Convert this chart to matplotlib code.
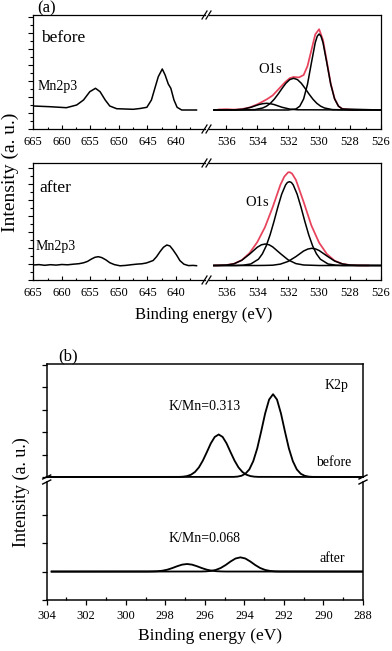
import matplotlib
matplotlib.use('Agg')
import matplotlib.pyplot as plt
from matplotlib.lines import Line2D
from matplotlib.ticker import FixedLocator, MultipleLocator

plt.rcParams['font.family'] = ['Liberation Serif', 'DejaVu Serif']

# ---------------- data (a) : before ----------------
mn_before_ev = [665, 662.1, 659.2, 657.4, 656.2, 655.1, 654.1, 653.3, 652.4, 651.6, 650.4, 649.0,
                647.5, 646.3, 645.1, 644.3, 643.7, 643.1, 642.4, 641.9, 641.35, 640.9, 640.35,
                639.8, 639.0, 637.8, 636.4]
mn_before_int = [23.0, 22.3, 21.3, 24.0, 29.0, 37.3, 40.7, 37.3, 29.0, 23.0, 20.3, 20.0,
                 19.7, 20.5, 21.7, 29.0, 40.7, 52.3, 60.0, 54.0, 45.0, 40.7, 29.0,
                 21.7, 19.0, 19.0, 19.0]

o1s_b_c1_ev = [536.8, 532.0, 531.5, 531.25, 531.0, 530.75, 530.5, 530.25, 530.12, 530.0, 529.88,
               529.75, 529.5, 529.25, 529.0, 528.75, 528.5, 526.0]
o1s_b_c1_int = [19, 19, 20.0, 22.8, 30.1, 44.8, 66.0, 86.4, 92.8, 95.0, 92.8,
                86.4, 66.0, 44.8, 30.1, 22.8, 20.0, 19]

o1s_b_c2_ev = [536.8, 535.0, 534.15, 533.65, 533.4, 533.15, 532.9, 532.65, 532.4, 532.15, 531.9,
               531.65, 531.4, 531.15, 530.9, 530.65, 530.4, 530.15, 529.9, 529.65, 529.15, 528.0, 526.0]
o1s_b_c2_int = [19, 19.1, 19.4, 21.0, 22.8, 25.7, 29.8, 34.9, 40.5, 45.7, 49.4,
                50.7, 49.4, 45.7, 40.5, 34.9, 29.8, 25.7, 22.8, 21.0, 19.4, 19, 19]

o1s_b_c3_ev = [536.8, 535.5, 534.9, 534.4, 533.9, 533.65, 533.4, 533.15, 532.9, 532.4, 531.9, 531.4, 526.0]
o1s_b_c3_int = [19, 19.1, 19.9, 21.75, 24.4, 25.3, 25.7, 25.3, 24.4, 21.75, 19.9, 19.2, 19]

o1s_b_env_ev = [536.5, 536.0, 535.5, 535.0, 534.5, 534.0, 533.7, 533.37, 533.0, 532.6, 532.2,
                531.9, 531.65, 531.3, 531.0, 530.75, 530.5, 530.25, 530.0, 529.75, 529.5,
                529.25, 529.0, 528.75, 528.5, 528.0, 527.5]
o1s_b_env_int = [19.5, 19.8, 19.4, 19.9, 21.5, 24.6, 27.0, 29.8, 33.6, 40.2, 46.8,
                 50.8, 52.0, 51.6, 54.0, 63.0, 78.7, 94.6, 99.8, 89.0, 67.3,
                 45.4, 30.4, 22.9, 20.2, 19.3, 19.0]

# ---------------- data (a) : after ----------------
mn_after_ev = [665, 664, 663, 662, 661, 660, 659, 658, 657, 656.2, 655.5, 654.8, 654.2, 653.6,
               653.0, 652.3, 651.6, 650.8, 649.8, 648.8, 647.8, 646.8, 646.0, 645.2, 644.6,
               644.0, 643.4, 642.8, 642.2, 641.6, 641.05, 640.5, 639.9, 639.3, 638.6, 637.8,
               637.0, 636.4]
mn_after_int = [15, 15.4, 14.7, 15.3, 14.9, 15.5, 15.2, 15.8, 16.3, 17.2, 18.6, 21.0, 22.7, 23.3,
                22.4, 20.2, 17.3, 15.4, 14.2, 14.6, 15.3, 15.9, 16.2, 17.0, 18.2,
                19.5, 23.3, 28.3, 32.7, 35.0, 34.0, 30.0, 25.0, 19.3, 15.8, 14.4,
                14.6, 14.3]

o1s_a_c1_ev = [536.8, 535.42, 534.92, 534.42, 533.92, 533.67, 533.42, 533.17, 532.92, 532.67,
               532.42, 532.17, 532.05, 531.92, 531.79, 531.67, 531.42, 531.17, 530.92, 530.67,
               530.42, 530.17, 529.92, 529.42, 528.92, 528.42, 526.0]
o1s_a_c1_int = [14.5, 14.5, 14.8, 16.0, 20.8, 26.1, 34.1, 45.1, 58.4, 72.8,
                85.8, 95.0, 97.5, 98.3, 97.5, 95.0, 85.8, 72.8, 58.4, 45.1,
                34.1, 26.1, 20.8, 16.0, 14.8, 14.5, 14.5]

o1s_a_c2_ev = [536.8, 536.5, 536.0, 535.5, 535.0, 534.5, 534.0, 533.73, 533.48, 533.23, 533.0,
               532.5, 532.0, 531.5, 531.0, 530.0, 526.0]
o1s_a_c2_int = [14.5, 14.6, 14.9, 16.2, 19.7, 25.8, 32.7, 35.2, 36.0, 35.2, 33.1,
                26.4, 20.1, 16.4, 15.0, 14.5, 14.5]

o1s_a_c3_ev = [536.8, 534.0, 533.5, 533.0, 532.5, 532.0, 531.5, 531.0, 530.72, 530.47, 530.22,
               530.0, 529.5, 529.0, 528.5, 528.0, 527.5, 526.0]
o1s_a_c3_int = [14.5, 14.5, 14.6, 14.8, 15.9, 18.6, 23.4, 29.0, 31.0, 31.7, 31.0,
                29.5, 24.1, 19.0, 16.1, 14.9, 14.6, 14.5]

o1s_a_env_ev = [536.8, 536.0, 535.5, 535.0, 534.5, 534.0, 533.5, 533.0, 532.5, 532.25, 532.0,
                531.9, 531.75, 531.5, 531.0, 530.5, 530.0, 529.5, 529.0, 528.5, 528.0, 527.5, 526.8]
o1s_a_env_int = [14.5, 14.9, 16.3, 19.9, 26.9, 37.8, 52.8, 72.9, 95.3, 103.4, 107.7,
                 107.8, 106.4, 100.1, 78.0, 54.5, 37.3, 26.0, 19.3, 16.1, 14.9, 14.6, 14.5]

# ---------------- data (b) : K2p ----------------
k_before_p1_ev = [304, 294.55, 294.35, 294.15, 293.95, 293.75, 293.55, 293.35, 293.15, 292.95,
                  292.75, 292.55, 292.35, 292.15, 291.95, 291.75, 291.55, 291.35, 291.15,
                  290.95, 290.75, 290.55, 288]
k_before_p1_int = [0, 0.005, 0.017, 0.054, 0.145, 0.34, 0.71, 1.28, 2.04, 2.84,
                   3.46, 3.70, 3.46, 2.84, 2.04, 1.28, 0.71, 0.34, 0.145,
                   0.054, 0.017, 0.005, 0]
k_before_p2_ev = [304, 297.3, 297.1, 296.9, 296.7, 296.5, 296.3, 296.1, 295.9, 295.7, 295.5,
                  295.3, 295.1, 294.9, 294.7, 294.5, 294.3, 294.1, 293.9, 293.7, 293.5, 293.3, 288]
k_before_p2_int = [0, 0.005, 0.015, 0.042, 0.103, 0.224, 0.43, 0.735, 1.11, 1.50, 1.79,
                   1.90, 1.79, 1.50, 1.11, 0.735, 0.43, 0.224, 0.103, 0.042, 0.015, 0.005, 0]

k_after_p1_ev = [303.75, 298.9, 298.65, 298.4, 298.15, 297.9, 297.65, 297.4, 297.15, 296.9,
                 296.65, 296.4, 296.15, 295.9, 295.65, 295.4, 295.15, 294.9, 288]
k_after_p1_int = [0, 0.001, 0.004, 0.012, 0.030, 0.066, 0.122, 0.188, 0.244, 0.266,
                  0.244, 0.188, 0.122, 0.066, 0.030, 0.012, 0.004, 0.001, 0]
k_after_p2_ev = [303.75, 296.2, 295.95, 295.7, 295.45, 295.2, 294.95, 294.7, 294.45, 294.2,
                 293.95, 293.7, 293.45, 293.2, 292.95, 292.7, 292.45, 292.2, 288]
k_after_p2_int = [0, 0.002, 0.007, 0.022, 0.057, 0.125, 0.229, 0.354, 0.459, 0.50,
                  0.459, 0.354, 0.229, 0.125, 0.057, 0.022, 0.007, 0.002, 0]

# tick labels
a_left_ticks = [665, 660, 655, 650, 645, 640]
a_right_ticks = [536, 534, 532, 530, 528, 526]
b_ticks = [304, 302, 300, 298, 296, 294, 292, 290, 288]

# ---------------- layout ----------------
W, H = 392, 651
fig = plt.figure(figsize=(W / 100, H / 100), dpi=100)
RED = '#e8435c'
LW = 1.1
SPW = 0.9


def px_axes(x0, x1, y0, y1):
    return fig.add_axes([x0 / W, 1 - y1 / H, (x1 - x0) / W, (y1 - y0) / H])


def seg(x0, y0, x1, y1, lw=SPW):
    fig.add_artist(Line2D([x0 / W, x1 / W], [1 - y0 / H, 1 - y1 / H],
                          transform=fig.transFigure, color='k', lw=lw))


def style_x(ax, major, minor):
    ax.xaxis.set_major_locator(FixedLocator(major))
    ax.xaxis.set_minor_locator(FixedLocator(minor))
    ax.tick_params(axis='x', which='major', direction='in', length=3, width=0.8,
                   labelsize=9, pad=5, top=False)
    ax.tick_params(axis='x', which='minor', direction='in', length=1.8, width=0.8, top=False)
    for s in ax.spines.values():
        s.set_linewidth(SPW)


XL = (33.3, 204.5)
XR = (208.5, 381)
rows_a = [(15, 129, 114), (163, 280, 117)]
datasets = [
    (mn_before_ev, mn_before_int,
     [(o1s_b_c1_ev, o1s_b_c1_int), (o1s_b_c2_ev, o1s_b_c2_int), (o1s_b_c3_ev, o1s_b_c3_int)],
     (o1s_b_env_ev, o1s_b_env_int)),
    (mn_after_ev, mn_after_int,
     [(o1s_a_c1_ev, o1s_a_c1_int), (o1s_a_c2_ev, o1s_a_c2_int), (o1s_a_c3_ev, o1s_a_c3_int)],
     (o1s_a_env_ev, o1s_a_env_int)),
]

for (y0, y1, ytop), (mev, mint, comps, env) in zip(rows_a, datasets):
    axl = px_axes(XL[0], XL[1], y0, y1)
    axr = px_axes(XR[0], XR[1], y0, y1)
    axl.plot(mev, mint, color='k', lw=LW)
    axr.plot(env[0], env[1], color=RED, lw=LW * 1.15)
    for cev, cint in comps:
        axr.plot(cev, cint, color='k', lw=LW)
    axl.set_xlim(665, 635)
    axr.set_xlim(537.15, 526)
    for ax in (axl, axr):
        ax.set_ylim(0, ytop)
    style_x(axl, a_left_ticks, [662.5, 657.5, 652.5, 647.5, 642.5, 637.5])
    style_x(axr, a_right_ticks, [535, 533, 531, 529, 527])
    axl.spines['right'].set_visible(False)
    axr.spines['left'].set_visible(False)
    axl.yaxis.set_major_locator(MultipleLocator(16))
    axl.yaxis.set_minor_locator(MultipleLocator(8))
    axl.tick_params(axis='y', which='major', direction='out', length=3.5, width=0.8,
                    labelleft=False)
    axl.tick_params(axis='y', which='minor', direction='out', length=2, width=0.8)
    axr.tick_params(axis='y', which='both', left=False, right=False, labelleft=False)
    # break marks
    for xb in (XL[1], XR[0]):
        for yb in (y0, y1):
            seg(xb - 2.5, yb + 4, xb + 2.5, yb - 4)

# panel (a) texts
fig.text(47 / W, 1 - 8 / H, '(a)', fontsize=12, ha='center', va='center')
fig.text(63.5 / W, 1 - 38 / H, 'before', fontsize=12.5, ha='center', va='center')
fig.text(57.5 / W, 1 - 86.5 / H, 'Mn2p3', fontsize=10, ha='center', va='center')
fig.text(270.5 / W, 1 - 69.5 / H, 'O1s', fontsize=10.5, ha='center', va='center')
fig.text(55 / W, 1 - 188 / H, 'after', fontsize=12.5, ha='center', va='center')
fig.text(56 / W, 1 - 246.5 / H, 'Mn2p3', fontsize=10, ha='center', va='center')
fig.text(257 / W, 1 - 203 / H, 'O1s', fontsize=10.5, ha='center', va='center')
fig.text(204 / W, 1 - 315 / H, 'Binding energy (eV)', fontsize=12, ha='center', va='center')
fig.text(10 / W, 1 - 172 / H, 'Intensity (a. u.)', fontsize=14, ha='center', va='center',
         rotation=90)

# ---------------- panel (b) ----------------
BX = (46.7, 363)
axb1 = px_axes(BX[0], BX[1], 364, 477)
axb2 = px_axes(BX[0], BX[1], 482, 600)

axb1.plot(k_before_p1_ev, k_before_p1_int, color='k', lw=LW * 1.2, clip_on=False)
axb1.plot(k_before_p2_ev, k_before_p2_int, color='k', lw=LW * 1.2, clip_on=False)
axb2.plot(k_after_p1_ev, k_after_p1_int, color='k', lw=LW * 1.2)
axb2.plot(k_after_p2_ev, k_after_p2_int, color='k', lw=LW * 1.2)

for ax in (axb1, axb2):
    ax.set_xlim(304, 288)
    for s in ax.spines.values():
        s.set_linewidth(SPW * 1.2)
axb1.set_ylim(0, 5.05)
axb2.set_ylim(-1, 3.15)
axb1.spines['bottom'].set_visible(False)
axb2.spines['top'].set_visible(False)
axb1.yaxis.set_major_locator(FixedLocator([0, 1, 2, 3, 4, 5]))
axb2.yaxis.set_major_locator(FixedLocator([-1, 0, 1, 2]))
for ax in (axb1, axb2):
    ax.tick_params(axis='y', which='both', direction='out', length=3.5, width=0.9,
                   labelleft=False, right=False)
axb1.tick_params(axis='x', which='both', bottom=False, top=False, labelbottom=False)
axb2.xaxis.set_major_locator(FixedLocator(b_ticks))
axb2.xaxis.set_minor_locator(FixedLocator([303, 301, 299, 297, 295, 293, 291, 289]))
axb2.tick_params(axis='x', which='major', direction='out', length=3.5, width=0.9,
                 labelsize=9, pad=4, top=False)
axb2.tick_params(axis='x', which='minor', direction='in', length=2, width=0.9, top=False)

for xb in BX:
    for yb in (477, 482):
        seg(xb - 4, yb + 2, xb + 4, yb - 2, lw=1.0)

fig.text(68 / W, 1 - 356 / H, '(b)', fontsize=12, ha='center', va='center')
fig.text(336.5 / W, 1 - 385 / H, 'K2p', fontsize=10, ha='center', va='center')
fig.text(204.5 / W, 1 - 407 / H, 'K/Mn=0.313', fontsize=10, ha='center', va='center')
fig.text(334 / W, 1 - 463 / H, 'before', fontsize=10, ha='center', va='center')
fig.text(205 / W, 1 - 538 / H, 'K/Mn=0.068', fontsize=10, ha='center', va='center')
fig.text(332 / W, 1 - 559 / H, 'after', fontsize=10, ha='center', va='center')
fig.text(210 / W, 1 - 636 / H, 'Binding energy (eV)', fontsize=12.5, ha='center', va='center')
fig.text(21 / W, 1 - 492 / H, 'Intensity (a. u.)', fontsize=13, ha='center', va='center',
         rotation=90)

fig.savefig('out.png', dpi=100)
